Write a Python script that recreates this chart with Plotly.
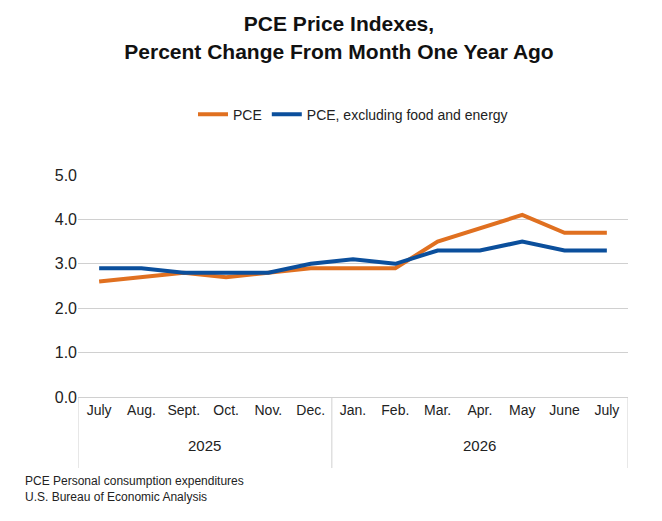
import plotly.graph_objects as go

months = ["July","Aug.","Sept.","Oct.","Nov.","Dec.","Jan.","Feb.","Mar.","Apr.","May","June","July"]
years = ["2025"]*6 + ["2026"]*7
pce = [2.6,2.7,2.8,2.7,2.8,2.9,2.9,2.9,3.5,3.8,4.1,3.7,3.7]
core = [2.9,2.9,2.8,2.8,2.8,3.0,3.1,3.0,3.3,3.3,3.5,3.3,3.3]
xs = list(range(len(months)))

fig = go.Figure()
fig.add_trace(go.Scatter(x=xs, y=pce, mode="lines", name="PCE",
                         line=dict(color="#E07020", width=4)))
fig.add_trace(go.Scatter(x=xs, y=core, mode="lines", name="PCE, excluding food and energy",
                         line=dict(color="#0B4F9C", width=4)))

grey = "#d0d0d0"
shapes = []
annotations = []
# year groups
groups = []
for i, y in enumerate(years):
    if not groups or groups[-1][0] != y:
        groups.append([y, i, i])
    else:
        groups[-1][2] = i
bounds = [g[1] - 0.5 for g in groups] + [groups[-1][2] + 0.5]
for b in bounds:
    shapes.append(dict(type="line", xref="x", yref="paper", x0=b, x1=b, y0=0, y1=-0.32,
                       line=dict(color=grey, width=1)))
for y, a, b in groups:
    annotations.append(dict(text=y, xref="x", yref="paper", x=(a + b) / 2, y=-0.265,
                            showarrow=False, font=dict(size=15)))
annotations.append(dict(text="PCE Personal consumption expenditures<br>U.S. Bureau of Economic Analysis",
                        xref="paper", yref="paper", x=-0.1, y=-0.34, xanchor="left", yanchor="top",
                        align="left", showarrow=False, font=dict(size=12)))

fig.update_layout(
    width=662, height=521, paper_bgcolor="white", plot_bgcolor="white",
    font=dict(family="Liberation Sans, Arial", size=14, color="#222"),
    title=dict(text="<b>PCE Price Indexes,<br>Percent Change From Month One Year Ago</b>",
               x=0.5, xanchor="center", y=0.955, yanchor="top", font=dict(size=21, color="#111")),
    legend=dict(orientation="h", x=0.5, xanchor="center", y=1.2, yanchor="bottom",
                font=dict(size=14)),
    margin=dict(l=70, r=42, t=167, b=132),
    yaxis=dict(range=[0, 5], dtick=1, tickformat=".1f", gridcolor=grey, gridwidth=1,
               zeroline=False, tickfont=dict(size=16), showline=False, ticks=""),
    xaxis=dict(tickmode="array", tickvals=xs, ticktext=months, showline=True, linecolor=grey,
               showgrid=False, zeroline=False, tickfont=dict(size=14), ticks="",
               range=[-0.5, len(xs) - 0.5]),
    shapes=shapes, annotations=annotations,
)
fig.write_html("out.html")
